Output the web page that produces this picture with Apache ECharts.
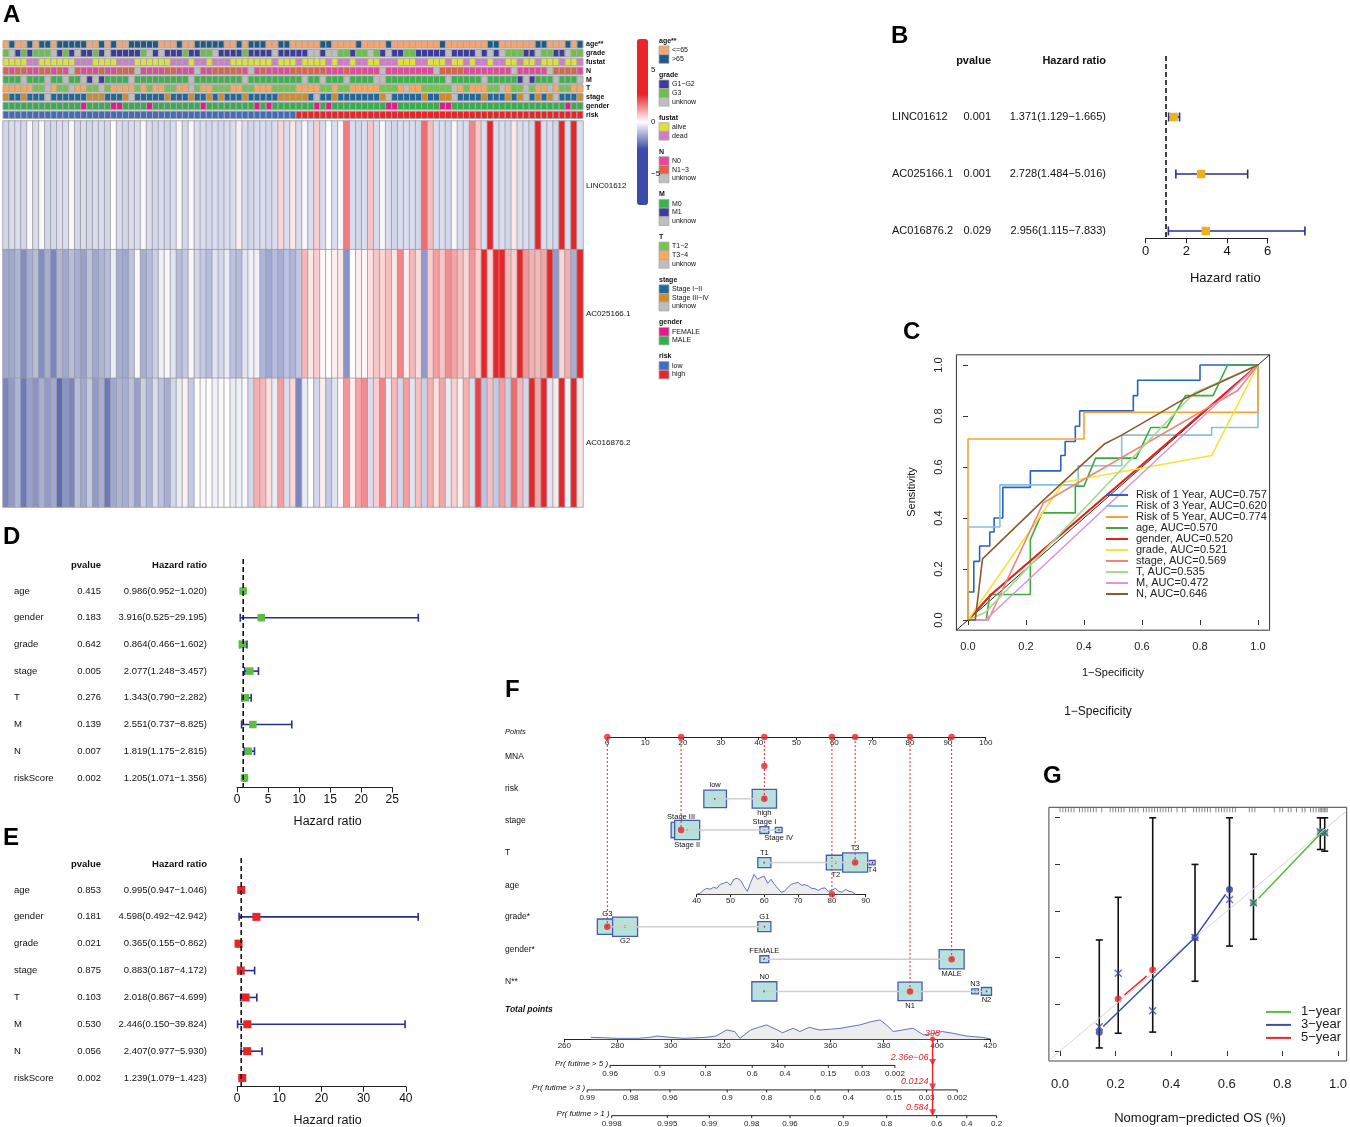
<!DOCTYPE html>
<html>
<head>
<meta charset="utf-8">
<script src="https://cdn.jsdelivr.net/npm/echarts/dist/echarts.min.js"></script>
<style>html,body{margin:0;padding:0;background:#fff}#main{width:1350px;height:1127px}</style>
</head>
<body>
<div id="main"></div>
<script>
// ---------- A: risk heatmap ----------
var sampleCount = 97;
var annNames = ['age**', 'grade', 'fustat', 'N', 'M', 'T', 'stage', 'gender', 'risk'];
var annAge    = 'abaababbab bbbbaababa abbbbbaaab aabbbbbaab abbbaabbaa aaabbaaaab aaaabaaaaa aaabaaaaaa abbaaaaaab baaabab';
var annGrade  = '3u131333u1 31u1131u11 1113u1u111 31133u1111 31111u1111 1uu1uu3313 3u31u11331 1111u1111u 1u1u33311u 3311u33';
var annFustat = 'aaaaddaaaa aadddaaaad ddaaaaaadd daddadddaa aaaaadaaad aaaadaddad daadddaaad daaadaadad daddaadaad aaadaad';
var annN      = '1011001101 0u10001001 11u0000110 00u0011111 0u01000011 1111000100 000u000000 00u1111000 00000u0000 0u11110';
var annM      = '000u000u00 u00u1u1000 0u00000000 0u00000000 u000000000 u00u000u00 00uu000000 0000u00000 u000001u10 00u000u';
var annT      = '3333311u31 1u3311u133 3313133113 3u13311133 1133311113 3331131133 3331113u33 11111u3133 311u311u13 3u31133';
var annStage  = '3113111u11 1111333111 3u11111311 1311313111 3111113333 31u1131111 1113u11111 31133u1111 3111313u13 13u1113';
var annGender = 'mmmmmmmmmm mmmfmmmmff mmmmfmmmmm mmmfmmmmmm mmfmfmmmmm mmfmfmmmmm mmmmffmmmm mmmffmmmmm mmmmmmmmmm mmmmfmm';
var annRisk   = 'llllllllll llllllllll llllllllll llllllllll lllllllllh hhhhhhhhhh hhhhhhhhhh hhhhhhhhhh hhhhhhhhhh hhhhhhh';
var annCodes = [['a','b'], ['1','3','u'], ['a','d'], ['0','1','u'], ['0','1','u'], ['1','3','u'], ['1','3','u'], ['f','m'], ['l','h']];
var annLevels = [['<=65','>65'], ['G1\u2212G2','G3','unknow'], ['alive','dead'], ['N0','N1\u22123','unknow'],
  ['M0','M1','unknow'], ['T1\u22122','T3\u22124','unknow'], ['Stage I\u2212II','Stage III\u2212IV','unknow'], ['FEMALE','MALE'], ['low','high']];

var geneNames = ['LINC01612', 'AC025166.1', 'AC016876.2'];
var exprLINC01612 = [-0.6,-0.5,-0.5,-0.6,-0.1,-0.5,-0.1,-0.6,-0.6,-0.5, -0.5,-0.1,-0.6,-0.5,-0.6,-0.5,-0.5,-0.6,0.0,-0.5,
  -0.6,-0.5,-0.5,-0.1,-0.5,-0.6,-0.5,-0.6,-0.5,-0.1, -0.6,-0.1,-0.5,-0.5,-0.6,-0.5,-0.6,-0.5,-0.5,0.2,
  -0.5,-0.6,-0.5,-0.5,-0.6,-0.5,0.5,-0.5,0.3,-0.5, -0.1,-0.5,0.6,-0.5,0.0,-0.5,-0.1,1.6,-0.5,-0.6,
  -0.5,0.7,-0.5,-0.1,-0.5,-0.6,-0.5,-0.5,-0.5,-0.6, 1.8,0.8,-0.5,-0.5,-0.6,-0.1,-0.5,-0.5,1.5,0.7,
  -0.5,2.8,-0.5,-0.5,-0.6,0.3,-0.5,-0.5,-0.6,2.8, -0.5,-0.5,-0.6,2.8,-0.5,2.8,-0.5];
var exprAC025166 = [-1.3,-1.3,-1.1,-1.7,-1.2,-1.0,-1.7,-1.2,-1.8,-1.1, -1.3,-1.0,-1.2,-1.4,-0.9,-1.3,-1.1,-1.0,-0.3,-1.2,
  -1.3,-0.9,-0.1,-1.2,-1.0,-0.7,-0.2,-0.1,-0.4,-1.0, -0.8,-0.1,-0.6,-0.8,-1.0,-0.4,-0.6,-0.3,-0.9,-1.0,
  -0.4,-0.2,-0.2,-1.1,-1.3,-1.0,-1.2,-0.9,-1.1,-0.8, 0.9,0.3,0.6,0.1,0.0,0.2,0.3,-1.6,0.0,0.2,
  0.1,0.4,0.7,0.5,0.8,0.3,1.5,0.2,0.9,0.4, -1.5,0.6,1.2,0.7,1.4,1.1,0.8,0.5,1.3,0.6,
  2.8,0.5,2.7,2.9,0.9,0.6,2.8,1.3,1.0,0.9, 1.1,2.8,-1.5,0.5,1.0,-1.2,2.9];
var exprAC016876 = [-1.8,-1.5,-1.1,-2.0,-1.4,-1.6,-1.2,-1.5,-1.3,-2.2, -1.6,-1.8,-1.0,-1.3,-0.8,-1.5,-1.2,-2.0,-1.3,-1.1,
  -1.2,-0.9,-1.4,-0.7,-1.1,-0.5,-0.9,-1.2,-0.6,-0.3, 0.2,-0.8,0.0,-0.1,0.0,-0.2,-0.1,0.0,-0.3,-0.2,
  -0.1,-0.6,1.0,0.9,0.4,-0.3,1.2,-0.5,0.5,-1.8, -0.3,0.0,-0.6,0.2,-0.8,-0.4,0.1,1.3,0.2,1.1,
  1.4,-0.5,0.6,1.5,-0.2,0.9,-0.6,1.2,-0.4,0.8, -0.7,1.0,0.4,1.1,-0.3,0.6,0.2,1.0,-0.5,2.3,
  -0.9,0.8,-0.8,1.2,-0.7,1.8,0.9,-0.6,2.8,1.1, 2.8,-0.4,0.3,2.8,-0.2,2.8,0.3];
var colorbarTicks = [5, 0, -5];

// ---------- B / D / E: forest plots ----------
var bNames = ['LINC01612', 'AC025166.1', 'AC016876.2'];
var bP  = [0.001, 0.001, 0.029];
var bHR = [1.371, 2.728, 2.956];
var bLo = [1.129, 1.484, 1.115];
var bHi = [1.665, 5.016, 7.833];

var clinNames = ['age', 'gender', 'grade', 'stage', 'T', 'M', 'N', 'riskScore'];
var dP  = [0.415, 0.183, 0.642, 0.005, 0.276, 0.139, 0.007, 0.002];
var dHR = [0.986, 3.916, 0.864, 2.077, 1.343, 2.551, 1.819, 1.205];
var dLo = [0.952, 0.525, 0.466, 1.248, 0.790, 0.737, 1.175, 1.071];
var dHi = [1.020, 29.195, 1.602, 3.457, 2.282, 8.825, 2.815, 1.356];

var eP  = [0.853, 0.181, 0.021, 0.875, 0.103, 0.530, 0.056, 0.002];
var eHR = [0.995, 4.598, 0.365, 0.883, 2.018, 2.446, 2.407, 1.239];
var eLo = [0.947, 0.492, 0.155, 0.187, 0.867, 0.150, 0.977, 1.079];
var eHi = [1.046, 42.942, 0.862, 4.172, 4.699, 39.824, 5.930, 1.423];

// ---------- C: ROC ----------
var rocNames = ['Risk of 1 Year', 'Risk of 3 Year', 'Risk of 5 Year', 'age', 'gender', 'grade', 'stage', 'T', 'M', 'N'];
var rocAUC = [0.757, 0.620, 0.774, 0.570, 0.520, 0.521, 0.569, 0.535, 0.472, 0.646];
var roc1yr = [[0,0],[0,0.11],[0.02,0.11],[0.02,0.23],[0.04,0.23],[0.04,0.29],[0.075,0.29],[0.075,0.345],[0.09,0.345],[0.09,0.40],
  [0.12,0.40],[0.12,0.52],[0.215,0.52],[0.215,0.585],[0.32,0.585],[0.32,0.645],[0.335,0.645],[0.335,0.70],[0.37,0.70],[0.37,0.76],
  [0.385,0.76],[0.385,0.82],[0.57,0.82],[0.57,0.88],[0.585,0.88],[0.585,0.94],[0.80,0.94],[0.80,1],[1,1]];
var roc3yr = [[0,0],[0,0.365],[0.11,0.365],[0.11,0.53],[0.38,0.53],[0.38,0.605],[0.53,0.605],[0.53,0.725],[0.84,0.725],[0.84,0.755],[1,0.755],[1,1]];
var roc5yr = [[0,0],[0,0.71],[0.40,0.71],[0.40,0.815],[1,0.815],[1,1]];
var rocAge = [[0,0],[0.063,0],[0.075,0.10],[0.215,0.10],[0.215,0.315],[0.255,0.42],[0.37,0.42],[0.37,0.525],[0.40,0.525],[0.44,0.635],
  [0.58,0.635],[0.63,0.755],[0.685,0.755],[0.75,0.88],[0.845,0.88],[0.895,1],[1,1]];
var rocGender = [[0,0],[0.08,0.10],[1,1]];
var rocGrade = [[0,0],[0.33,0.54],[0.84,0.645],[1,1]];
var rocStage = [[0,0],[0.07,0],[0.26,0.46],[0.93,0.90],[1,1]];
var rocT = [[0,0],[0.06,0.03],[0.78,0.89],[1,1]];
var rocM = [[0,0],[0.06,0],[1,1]];
var rocN = [[0,0],[0.025,0],[0.05,0.24],[0.26,0.47],[0.47,0.69],[0.53,0.725],[0.75,0.87],[1,1]];

// ---------- F: nomogram ----------
var nomoLabels = ['Points', 'MNA', 'risk', 'stage', 'T', 'age', 'grade*', 'gender*', 'N**', 'Total points'];
var mnaPts = 41.5;
var riskLevels = ['low', 'high'], riskPts = [28.5, 41.5], riskN = [45, 52];
var stageLevels = ['Stage III', 'Stage II', 'Stage I', 'Stage IV'], stagePts = [19.5, 21.1, 41.5, 45.3], stageN = [35, 55, 7, 4];
var tLevels = ['T1', 'T2', 'T3', 'T4'], tPts = [41.5, 60.4, 65.5, 70.0], tN = [15, 32, 55, 3];
var gradeLevels = ['G3', 'G2', 'G1'], gradePts = [0, 4.7, 41.5], gradeN = [35, 55, 15];
var genderLevels = ['FEMALE', 'MALE'], genderPts = [41.5, 91.0], genderN = [7, 55];
var nLevels = ['N0', 'N1', 'N3', 'N2'], nPts = [41.5, 80.0, 97.2, 100.2], nN = [55, 51, 4, 9];
var ageAxis = [40, 90], ageAxisPts = [23.6, 68.3];
var ageDensity = [[40,0],[41,0.05],[42,0.2],[43,0.3],[44,0.25],[45,0.35],[46,0.3],[47,0.5],[48,0.55],[49,0.62],[50,0.45],
  [51,0.75],[52,0.8],[53,0.7],[54,0.4],[55,0.15],[56,0.6],[57,1.0],[58,0.75],[59,0.85],[60,0.9],[61,0.55],[62,0.75],[63,0.5],
  [64,0.3],[65,0.1],[66,0.15],[67,0.35],[68,0.5],[69,0.55],[70,0.6],[71,0.45],[72,0.48],[73,0.42],[74,0.3],[75,0.28],[76,0.2],
  [77,0.3],[78,0.32],[79,0.15],[80,0.2],[81,0.3],[82,0.15],[83,0.1],[84,0.25],[85,0.15],[86,0.12],[87,0]];
var totDensity = [[270,0.1],[275,0.08],[280,0.05],[288,0.05],[292,0.1],[295,0.17],[300,0.1],[305,0.05],[313,0.1],[317,0.17],
  [321,0.48],[324,0.4],[326,0.05],[330,0.48],[333,0.62],[336,0.74],[340,0.48],[342,0.34],[346,0.57],[348.5,0.4],[352,0.62],
  [356,0.48],[360,0.52],[364,0.57],[367,0.65],[371,0.74],[375,0.9],[378.6,1.0],[381,0.74],[383.6,0.4],[387,0.48],[391,0.57],
  [395,0.22],[398.6,0.31],[402,0.4],[406,0.31],[411,0.17],[417,0.1],[420,0.03]];
var prNames = ['Pr( futime > 5 )', 'Pr( futime > 3 )', 'Pr( futime > 1 )'];
var pr5Labels = ['0.96','0.9','0.8','0.6','0.4','0.15','0.03','0.002'];
var pr5At = [277.2, 295.9, 313.1, 330.6, 342.9, 359.2, 371.9, 384.2];
var pr3Labels = ['0.99','0.98','0.96','0.9','0.8','0.6','0.4','0.15','0.03','0.002'];
var pr3At = [268.6, 284.9, 299.7, 321.2, 336.0, 354.2, 366.7, 383.9, 396.1, 407.6];
var pr1Labels = ['0.998','0.995','0.99','0.98','0.96','0.9','0.8','0.6','0.4','0.2'];
var pr1At = [277.8, 298.7, 314.5, 330.4, 344.8, 364.8, 381.1, 399.9, 411.2, 422.4];
var prPred = ['2.36e\u221206', '0.0124', '0.584'];
var selRisk = 'high', selStage = 'Stage III', selT = 'T3', selAge = 80, selGrade = 'G3', selGender = 'MALE', selN = 'N1';

// ---------- G: calibration ----------
var calX  = [0.141, 0.209, 0.333, 0.485, 0.609, 0.695, 0.935, 0.951];
var calLo = [0.013, 0.076, 0.081, 0.299, 0.450, 0.479, 0.864, 0.857];
var calHi = [0.476, 0.659, 1.000, 0.800, 1.000, 0.844, 1.000, 1.000];
var calCorrected = [[0.141,0.104],[0.209,0.333],[0.333,0.173],[0.485,0.487],[0.609,0.650],[0.695,0.636],[0.935,0.940],[0.951,0.936]];
var cal1Dots = [[0.695,0.636],[0.935,0.940],[0.951,0.936]];
var cal3Dots = [[0.141,0.080],[0.485,0.487],[0.609,0.693]];
var cal5Dots = [[0.209,0.223],[0.333,0.347]];
var cal1Line = [[0.713,0.654],[0.934,0.930]];
var cal3Line = [[0.155,0.105],[0.485,0.487],[0.595,0.672]];
var cal5Line = [[0.231,0.240],[0.311,0.321]];
var calRug = [0.0,0.01,0.02,0.03,0.04,0.05,0.07,0.08,0.09,0.1,0.11,0.12,0.13,0.15,0.18,0.19,0.2,0.21,0.22,0.23,0.25,0.26,0.27,
  0.28,0.3,0.31,0.32,0.33,0.34,0.35,0.36,0.37,0.38,0.39,0.4,0.42,0.44,0.45,0.48,0.49,0.5,0.51,0.52,0.53,0.54,0.56,0.57,0.58,
  0.59,0.6,0.61,0.62,0.63,0.68,0.69,0.7,0.77,0.79,0.8,0.82,0.83,0.85,0.87,0.88,0.9,0.91,0.92,0.93,0.935,0.94,0.945,0.95,0.955,0.96];

// ================= drawing =================
var FONT = 'Liberation Sans';
var chart = echarts.init(document.getElementById('main'));
var grids = [], xAxes = [], yAxes = [], series = [];

function addGrid(g, xa, ya) {
  var gi = grids.length;
  grids.push(g);
  xa.gridIndex = gi; ya.gridIndex = gi;
  xAxes.push(xa); yAxes.push(ya);
  return gi;
}
function hid(min, max, extra) {
  var a = {type: 'value', min: min, max: max, show: false};
  for (var k in (extra || {})) a[k] = extra[k];
  return a;
}
function onGrid(gi, s) { s.xAxisIndex = gi; s.yAxisIndex = gi; s.silent = true; series.push(s); return s; }
function T(x, y, s, o) {
  o = o || {};
  var al = o.align || 'left';
  var e = {type: 'text', x: x, y: y, silent: true, z: 100, style: {text: s, fontSize: o.size || 10, fontFamily: FONT,
    fontWeight: o.weight || 'normal', fontStyle: o.style || 'normal', fill: o.color || '#111',
    align: al, verticalAlign: 'middle', textAlign: al, textVerticalAlign: 'middle'}};
  if (o.rot) e.rotation = o.rot;
  return e;
}
function codes(s) { return s.replace(/ /g, '').split(''); }

// ----- A -----
var annColors = [['#F6A471','#1D5A88'], ['#3B3C9C','#6CC04A','#BEBEBE'], ['#E0E03A','#D37BCB'], ['#E6479A','#E06048','#BEBEBE'],
  ['#3CB24B','#3B3C9C','#BEBEBE'], ['#74C450','#F9A95C','#BEBEBE'], ['#23689C','#CF8C2C','#BEBEBE'], ['#E5198A','#33B04A'], ['#3D6CC0','#E8262A']];
var annStrings = [annAge, annGrade, annFustat, annN, annM, annT, annStage, annGender, annRisk];
var colCats = [];
for (var i = 0; i < sampleCount; i++) colCats.push(String(i));
var gAnn = addGrid({left: 3, top: 40, width: 580, height: 79.2},
  {type: 'category', data: colCats, show: false}, {type: 'category', data: annNames, inverse: true, show: false});
var annData = [];
annStrings.forEach(function (s, r) {
  codes(s).forEach(function (ch, c) { annData.push([c, r, annCodes[r].indexOf(ch)]); });
});
onGrid(gAnn, {type: 'custom', data: annData, renderItem: function (p, api) {
  var c = api.coord([api.value(0), api.value(1)]), sz = api.size([1, 1]);
  return {type: 'rect', shape: {x: c[0] - sz[0] / 2, y: c[1] - sz[1] / 2 + 0.7, width: sz[0], height: sz[1] - 1.4},
    style: {fill: annColors[api.value(1)][api.value(2)], stroke: '#A8A8A8', lineWidth: 1}};
}});

var gHeat = addGrid({left: 3, top: 121, width: 580, height: 386},
  {type: 'category', data: colCats, show: false}, {type: 'category', data: geneNames, inverse: true, show: false});
var heatData = [];
[exprLINC01612, exprAC025166, exprAC016876].forEach(function (arr, g) {
  arr.forEach(function (v, c) { heatData.push([c, g, v]); });
});
var heatIdx = series.length;
onGrid(gHeat, {type: 'heatmap', data: heatData, itemStyle: {borderColor: '#9C9C9C', borderWidth: 0.8}, emphasis: {disabled: true}});

// ----- forest plots -----
function forest(cfg) {
  var maxHi = Math.max.apply(null, cfg.hi);
  var yMin = (cfg.dashTop - cfg.rowTop) / cfg.step, yMax = (cfg.axisY - cfg.rowTop) / cfg.step;
  var gd = addGrid({left: cfg.x0, top: cfg.dashTop, width: maxHi * cfg.ppu, height: cfg.axisY - cfg.dashTop},
    hid(0, maxHi), hid(yMin, yMax, {inverse: true}));
  addGrid({left: cfg.x0, top: cfg.dashTop, width: cfg.axisMax * cfg.ppu, height: cfg.axisY - cfg.dashTop},
    {type: 'value', min: 0, max: cfg.axisMax, interval: cfg.interval, splitLine: {show: false},
      axisLine: {lineStyle: {color: '#222', width: 1}}, axisTick: {length: 5, lineStyle: {color: '#222'}},
      axisLabel: {fontSize: cfg.tick, color: '#111', margin: cfg.margin}}, hid(0, 1));
  onGrid(gd, {type: 'line', data: [[1, yMin], [1, yMax]], symbol: 'none', lineStyle: {color: '#111', width: 1.6, type: [5, 3]}});
  var navy = '#2A2E8E';
  onGrid(gd, {type: 'custom', data: cfg.hr.map(function (h, i) { return [h, i, cfg.lo[i], cfg.hi[i]]; }),
    renderItem: function (p, api) {
      var y = api.coord([0, api.value(1)])[1];
      var xc = api.coord([api.value(0), 0])[0], xl = api.coord([api.value(2), 0])[0], xh = api.coord([api.value(3), 0])[0];
      var s = cfg.sq, cp = cfg.cap, st = {stroke: navy, lineWidth: 1.6};
      return {type: 'group', children: [
        {type: 'line', shape: {x1: xl, y1: y, x2: xh, y2: y}, style: st},
        {type: 'line', shape: {x1: xl, y1: y - cp, x2: xl, y2: y + cp}, style: st},
        {type: 'line', shape: {x1: xh, y1: y - cp, x2: xh, y2: y + cp}, style: st},
        {type: 'rect', shape: {x: xc - s / 2, y: y - s / 2, width: s, height: s}, style: {fill: cfg.color}}
      ]};
    }});
  cfg.grid = gd; cfg.maxHi = maxHi;
  return cfg;
}
var fB = forest({names: bNames, p: bP, hr: bHR, lo: bLo, hi: bHi, color: '#E9B31F', x0: 1145.7, ppu: 20.33, axisMax: 6, interval: 2,
  rowTop: 117, step: 57, axisY: 238.3, dashTop: 56, tick: 13, margin: 7, sq: 8.5, cap: 4.5,
  nameX: 892, pX: 991, hrX: 1106, headY: 61, txt: 11, title: 13, titleOff: 40});
var fD = forest({names: clinNames, p: dP, hr: dHR, lo: dLo, hi: dHi, color: '#5DBB46', x0: 237, ppu: 6.21, axisMax: 25, interval: 5,
  rowTop: 591, step: 26.7, axisY: 787.5, dashTop: 559, tick: 12, margin: 6, sq: 7.5, cap: 4,
  nameX: 14, pX: 101, hrX: 207, headY: 565, txt: 9.5, title: 12.5, titleOff: 34});
var fE = forest({names: clinNames, p: eP, hr: eHR, lo: eLo, hi: eHi, color: '#E8262A', x0: 237, ppu: 4.22, axisMax: 40, interval: 10,
  rowTop: 890, step: 26.86, axisY: 1086.7, dashTop: 858, tick: 12, margin: 6, sq: 8, cap: 4,
  nameX: 14, pX: 101, hrX: 207, headY: 864, txt: 9.5, title: 12.5, titleOff: 34});

// ----- C: ROC -----
var rocCurves = [roc1yr, roc3yr, roc5yr, rocAge, rocGender, rocGrade, rocStage, rocT, rocM, rocN];
var rocColors = ['#2A62C4', '#86C0E0', '#F6A234', '#3EAA3E', '#E3211C', '#F2E535', '#F08679', '#A5DB8C', '#DA97D6', '#8A5A2E'];
var gRoc = addGrid({left: 956.4, top: 354.8, width: 313.2, height: 275.4, show: true, borderColor: '#333', borderWidth: 1},
  hid(-0.04, 1.04), hid(-0.04, 1.04));
addGrid({left: 968, top: 365, width: 290, height: 255},
  {type: 'value', min: 0, max: 1, interval: 0.2, offset: 10.2, splitLine: {show: false}, axisLine: {show: false},
    axisTick: {length: 5, lineStyle: {color: '#333'}}, axisLabel: {fontSize: 11, color: '#222', margin: 11, formatter: function (v) { return v.toFixed(1); }}},
  {type: 'value', min: 0, max: 1, interval: 0.2, offset: 11.6, splitLine: {show: false}, axisLine: {show: false},
    axisTick: {length: 5, lineStyle: {color: '#333'}}, axisLabel: {fontSize: 11, color: '#222', margin: 12, rotate: 90, formatter: function (v) { return v.toFixed(1); }}});
onGrid(gRoc, {type: 'line', data: [[-0.04, -0.04], [1.04, 1.04]], symbol: 'none', lineStyle: {color: '#111', width: 0.9}});
var rocLegend = [];
rocCurves.forEach(function (cv, i) {
  var nm = rocNames[i] + ', AUC=' + rocAUC[i].toFixed(3);
  rocLegend.push(nm);
  onGrid(gRoc, {type: 'line', name: nm, data: cv, symbol: 'none', lineStyle: {color: rocColors[i], width: i === 4 ? 2.2 : 1.6}, itemStyle: {color: rocColors[i]}});
});

// ----- F: nomogram -----
var PTS_LEFT = 607.3, PTS_PX = 3.784, TOT_LEFT = 564.3, TOT_PX = 2.662, TOT_MIN = 260;
var nomoRowAt = [0, 0.90, 1.92, 2.89, 3.90, 4.88, 5.89, 6.90, 7.90, 9.38];
var nomoLabelAt = [-0.16, 0.62, 1.61, 2.61, 3.60, 4.63, 5.59, 6.61, 7.61, 8.48];
var prRowAt = [10.20, 10.96, 11.76];
var ROW_MIN = -0.528, ROW_MAX = 12.112;
var gNomo = addGrid({left: 500, top: 720, width: 510, height: 407},
  hid((500 - PTS_LEFT) / PTS_PX, (1010 - PTS_LEFT) / PTS_PX), hid(ROW_MIN, ROW_MAX, {inverse: true}));
var smallAxis = function (min, max, iv) {
  return {type: 'value', min: min, max: max, interval: iv, splitLine: {show: false},
    axisLine: {lineStyle: {color: '#222', width: 1}}, axisTick: {length: 3, lineStyle: {color: '#222'}},
    axisLabel: {fontSize: 8, color: '#222', margin: 2}};
};
addGrid({left: PTS_LEFT, top: 736, width: 100 * PTS_PX, height: 1}, smallAxis(0, 100, 10), hid(0, 1));
var ageLeft = PTS_LEFT + ageAxisPts[0] * PTS_PX, ageW = (ageAxisPts[1] - ageAxisPts[0]) * PTS_PX;
var gAge = addGrid({left: ageLeft, top: 874.3, width: ageW, height: 20}, smallAxis(ageAxis[0], ageAxis[1], 10), hid(0, 1));
var gTot = addGrid({left: TOT_LEFT, top: 1017, width: 160 * TOT_PX, height: 22.3}, smallAxis(260, 420, 20), hid(0, 1.15));
var gPr = addGrid({left: TOT_LEFT, top: 720, width: 175 * TOT_PX, height: 407}, hid(260, 435), hid(ROW_MIN, ROW_MAX, {inverse: true}));

function agePts(a) { return ageAxisPts[0] + (a - ageAxis[0]) * (ageAxisPts[1] - ageAxisPts[0]) / (ageAxis[1] - ageAxis[0]); }
var nomoVars = [
  {levels: riskLevels, pts: riskPts, n: riskN, row: nomoRowAt[2], lab: ['t', 'b'], sel: selRisk},
  {levels: stageLevels, pts: stagePts, n: stageN, row: nomoRowAt[3], lab: ['t', 'b', 't', 'b'], sel: selStage},
  {levels: tLevels, pts: tPts, n: tN, row: nomoRowAt[4], lab: ['t', 'b', 't', 'b'], sel: selT},
  {levels: gradeLevels, pts: gradePts, n: gradeN, row: nomoRowAt[6], lab: ['t', 'b', 't'], sel: selGrade},
  {levels: genderLevels, pts: genderPts, n: genderN, row: nomoRowAt[7], lab: ['t', 'b'], sel: selGender},
  {levels: nLevels, pts: nPts, n: nN, row: nomoRowAt[8], lab: ['t', 'b', 't', 'b'], sel: selN}
];
var boxItems = [], selDots = [[mnaPts, nomoRowAt[1]], [agePts(selAge), nomoRowAt[5]]], dropLines = [[agePts(selAge), nomoRowAt[5]]];
var totalPts = mnaPts + agePts(selAge);
nomoVars.forEach(function (v) {
  onGrid(gNomo, {type: 'line', data: [[Math.min.apply(null, v.pts), v.row], [Math.max.apply(null, v.pts), v.row]],
    symbol: 'none', lineStyle: {color: '#CFCFCF', width: 1.5}});
  v.levels.forEach(function (lv, j) {
    boxItems.push({pts: v.pts[j], row: v.row, n: v.n[j], name: lv, lab: v.lab[j]});
    if (lv === v.sel) { selDots.push([v.pts[j], v.row]); dropLines.push([v.pts[j], v.row]); totalPts += v.pts[j]; }
  });
});
dropLines.forEach(function (d) { selDots.push([d[0], 0]); });
onGrid(gNomo, {type: 'custom', data: boxItems.map(function (b) { return [b.pts, b.row]; }), renderItem: function (p, api) {
  var it = boxItems[p.dataIndex], c = api.coord([it.pts, it.row]);
  var w = 25 * Math.sqrt(it.n / 55), h = w * 0.77;
  var ly = it.lab === 't' ? c[1] - h / 2 - 5 : c[1] + h / 2 + 5;
  return {type: 'group', children: [
    {type: 'rect', shape: {x: c[0] - w / 2, y: c[1] - h / 2, width: w, height: h}, style: {fill: '#B6E2DB', stroke: '#4A5AB4', lineWidth: 1.3}},
    {type: 'rect', shape: {x: c[0] - 0.8, y: c[1] - 0.8, width: 1.6, height: 1.6}, style: {fill: '#111'}},
    {type: 'text', x: c[0], y: ly, style: {text: it.name, fontSize: 7.5, fontFamily: FONT, fill: '#111',
      align: 'center', verticalAlign: 'middle', textAlign: 'center', textVerticalAlign: 'middle'}}
  ]};
}});
onGrid(gNomo, {type: 'custom', data: dropLines, renderItem: function (p, api) {
  var a = api.coord([api.value(0), 0]), b = api.coord([api.value(0), api.value(1)]);
  return {type: 'line', shape: {x1: a[0], y1: a[1], x2: b[0], y2: b[1]}, style: {stroke: '#E8262A', lineWidth: 1, lineDash: [2, 2]}};
}});
onGrid(gAge, {type: 'line', data: ageDensity, symbol: 'none', lineStyle: {color: '#4050A8', width: 0.8}, areaStyle: {color: '#EDEDED', opacity: 1}});
onGrid(gTot, {type: 'line', data: totDensity, symbol: 'none', lineStyle: {color: '#4050A8', width: 0.8}, areaStyle: {color: '#EDEDED', opacity: 1}});
onGrid(gNomo, {type: 'scatter', data: selDots, symbolSize: 6.5, itemStyle: {color: '#E8262A'}, z: 5});

var prTicks = [[pr5At, pr5Labels], [pr3At, pr3Labels], [pr1At, pr1Labels]];
prTicks.forEach(function (pt, k) {
  var row = prRowAt[k];
  onGrid(gPr, {type: 'line', data: [[pt[0][0], row], [pt[0][pt[0].length - 1], row]], symbol: 'none', lineStyle: {color: '#222', width: 1}});
  onGrid(gPr, {type: 'custom', data: pt[0].map(function (a) { return [a, row]; }), renderItem: function (p, api) {
    var c = api.coord([api.value(0), api.value(1)]);
    return {type: 'group', children: [
      {type: 'line', shape: {x1: c[0], y1: c[1], x2: c[0], y2: c[1] + 2.5}, style: {stroke: '#222', lineWidth: 1}},
      {type: 'text', x: c[0], y: c[1] + 8, style: {text: pt[1][p.dataIndex], fontSize: 8, fontFamily: FONT, fill: '#222',
        align: 'center', verticalAlign: 'middle', textAlign: 'center', textVerticalAlign: 'middle'}}
    ]};
  }});
});
var totalRow = nomoRowAt[9];
onGrid(gPr, {type: 'line', data: [[totalPts, totalRow], [totalPts, prRowAt[2]]], symbol: 'none', lineStyle: {color: '#E8262A', width: 1.5}, z: 4});
onGrid(gPr, {type: 'scatter', data: prRowAt.map(function (r) { return [totalPts, r]; }), symbol: 'triangle', symbolRotate: 180,
  symbolSize: 7, symbolOffset: [0, -3], itemStyle: {color: '#E8262A'}, z: 5});
onGrid(gPr, {type: 'scatter', data: [[totalPts, totalRow]], symbolSize: 5, itemStyle: {color: '#E8262A'}, z: 5});

// ----- G: calibration -----
var gCal = addGrid({left: 1048.9, top: 807.3, width: 297.8, height: 253.7, show: true, borderColor: '#444', borderWidth: 1},
  hid(-0.04, 1.03), hid(-0.043, 1.045));
addGrid({left: 1060, top: 817.7, width: 278.3, height: 233.3},
  {type: 'value', min: 0, max: 1, interval: 0.2, offset: 10, splitLine: {show: false}, axisLine: {show: false},
    axisTick: {length: 5, lineStyle: {color: '#333'}}, axisLabel: {fontSize: 13, color: '#222', margin: 17, formatter: function (v) { return v.toFixed(1); }}},
  {type: 'value', min: 0, max: 1, interval: 0.2, offset: 11.1, splitLine: {show: false}, axisLine: {show: false},
    axisTick: {length: 5, lineStyle: {color: '#333'}}, axisLabel: {show: false}});
var cGreen = '#5CB946', cBlue = '#3B4CAE', cRed = '#E8262A';
onGrid(gCal, {type: 'line', data: [[-0.04, -0.04], [1.03, 1.03]], symbol: 'none', lineStyle: {color: '#D5D5D5', width: 1}});
onGrid(gCal, {type: 'custom', data: calRug.map(function (x) { return [x, 1.045]; }), renderItem: function (p, api) {
  var c = api.coord([api.value(0), api.value(1)]);
  return {type: 'line', shape: {x1: c[0], y1: c[1], x2: c[0], y2: c[1] + 5}, style: {stroke: '#555', lineWidth: 0.7}};
}});
onGrid(gCal, {type: 'custom', data: calX.map(function (x, i) { return [x, calLo[i], calHi[i]]; }), renderItem: function (p, api) {
  var lo = api.coord([api.value(0), api.value(1)]), hi = api.coord([api.value(0), api.value(2)]), st = {stroke: '#111', lineWidth: 1.6};
  return {type: 'group', children: [
    {type: 'line', shape: {x1: lo[0], y1: lo[1], x2: hi[0], y2: hi[1]}, style: st},
    {type: 'line', shape: {x1: lo[0] - 3.5, y1: lo[1], x2: lo[0] + 3.5, y2: lo[1]}, style: st},
    {type: 'line', shape: {x1: hi[0] - 3.5, y1: hi[1], x2: hi[0] + 3.5, y2: hi[1]}, style: st}
  ]};
}});
var calNames = ['1\u2212year', '3\u2212year', '5\u2212year'];
[[cal1Line, cGreen], [cal3Line, cBlue], [cal5Line, cRed]].forEach(function (l, i) {
  onGrid(gCal, {type: 'line', name: calNames[i], data: l[0], symbol: 'none', lineStyle: {color: l[1], width: 1.5}, itemStyle: {color: l[1]}});
});
[[cal1Dots, cGreen], [cal3Dots, '#2E3B9E'], [cal5Dots, cRed]].forEach(function (d) {
  onGrid(gCal, {type: 'scatter', data: d[0], symbolSize: 7, itemStyle: {color: d[1]}});
});
onGrid(gCal, {type: 'scatter', data: calCorrected, symbol: 'path://M0,0L10,10M10,0L0,10', symbolSize: 7,
  itemStyle: {color: 'rgba(0,0,0,0)', borderColor: cBlue, borderWidth: 1.4}});

chart.setOption({
  animation: false,
  backgroundColor: '#ffffff',
  textStyle: {fontFamily: FONT},
  grid: grids, xAxis: xAxes, yAxis: yAxes, series: series,
  visualMap: [{type: 'continuous', seriesIndex: heatIdx, min: -8, max: 8, left: 637, top: 39, itemWidth: 11, itemHeight: 166,
    padding: 0, calculable: false, hoverLink: false,
    inRange: {color: ['#3A4BA8', '#3A4BA8', '#3A4BA8', '#FFFFFF', '#E8262A', '#E8262A', '#E8262A']}}],
  legend: [
    {data: rocLegend, orient: 'vertical', left: 1105, top: 489.5, itemWidth: 22, itemHeight: 13.1, itemGap: 0, padding: 0,
      selectedMode: false, itemStyle: {opacity: 0}, textStyle: {fontSize: 11, color: '#222', padding: [0, 0, 0, 3]}},
    {data: calNames, orient: 'vertical', left: 1265, top: 1005.4, itemWidth: 25, itemHeight: 15.85, itemGap: 0, padding: 0,
      selectedMode: false, itemStyle: {opacity: 0}, textStyle: {fontSize: 13, color: '#222', padding: [0, 0, 0, 5]}}
  ]
});

// ----- text layer -----
function pix(gi, v) { return chart.convertToPixel({gridIndex: gi}, v); }
var g = [];
[['A', 3, 15], ['B', 891, 36], ['C', 903, 332], ['D', 3, 537], ['E', 3, 838], ['F', 505, 690], ['G', 1043, 776]].forEach(function (l) {
  g.push(T(l[1], l[2], l[0], {size: 24, weight: 'bold', color: '#000'}));
});
annNames.forEach(function (nm, r) { g.push(T(586, pix(gAnn, [0, r])[1], nm, {size: 7, weight: 'bold'})); });
geneNames.forEach(function (nm, r) { g.push(T(586, pix(gHeat, [0, r])[1], nm, {size: 8})); });
colorbarTicks.forEach(function (v) {
  g.push(T(651, 39 + (8 - v) / 16 * 166, v < 0 ? '\u2212' + Math.abs(v) : String(v), {size: 8}));
});
var ly = 41;
annNames.forEach(function (nm, r) {
  g.push(T(659, ly, nm, {size: 7, weight: 'bold'}));
  annLevels[r].forEach(function (lv, j) {
    var by = ly + 5 + j * 8.7;
    g.push({type: 'rect', silent: true, shape: {x: 659, y: by, width: 10, height: 8.7}, style: {fill: annColors[r][j], stroke: '#AAAAAA', lineWidth: 0.8}});
    g.push(T(672, by + 4.35, lv, {size: 7}));
  });
  ly += 5 + annLevels[r].length * 8.7 + 11.6;
});
[fB, fD, fE].forEach(function (f) {
  g.push(T(f.pX, f.headY, 'pvalue', {size: f.txt, weight: 'bold', align: 'right'}));
  g.push(T(f.hrX, f.headY, 'Hazard ratio', {size: f.txt, weight: 'bold', align: 'right'}));
  f.names.forEach(function (nm, i) {
    var y = pix(f.grid, [0, i])[1];
    g.push(T(f.nameX, y, nm, {size: f.txt}));
    g.push(T(f.pX, y, f.p[i].toFixed(3), {size: f.txt, align: 'right'}));
    g.push(T(f.hrX, y, f.hr[i].toFixed(3) + '(' + f.lo[i].toFixed(3) + '\u2212' + f.hi[i].toFixed(3) + ')', {size: f.txt, align: 'right'}));
  });
  g.push(T(f.x0 + f.maxHi * f.ppu / 2, f.axisY + f.titleOff, 'Hazard ratio', {size: f.title, align: 'center'}));
});
g.push(T(912, 492, 'Sensitivity', {size: 11, align: 'center', rot: Math.PI / 2}));
g.push(T(1113, 673, '1\u2212Specificity', {size: 11, align: 'center'}));
g.push(T(1098, 712, '1\u2212Specificity', {size: 12, align: 'center'}));
nomoLabels.forEach(function (nm, i) {
  var y = pix(gNomo, [0, nomoLabelAt[i]])[1];
  var o = {size: 8.5};
  if (i === 0) o = {size: 7.5, style: 'italic'};
  if (i === 9) o = {size: 8.5, style: 'italic', weight: 'bold'};
  g.push(T(505, y, nm, o));
});
prTicks.forEach(function (pt, k) {
  var p0 = pix(gPr, [pt[0][0], prRowAt[k]]);
  g.push(T(p0[0] - 2, p0[1] - 2, prNames[k], {size: 8, style: 'italic', align: 'right'}));
  var pr = pix(gPr, [totalPts, prRowAt[k]]);
  g.push(T(pr[0] - 4, pr[1] - 8, prPred[k], {size: 9, style: 'italic', color: '#E8262A', align: 'right'}));
});
var tp = pix(gPr, [totalPts, totalRow]);
g.push(T(tp[0], tp[1] - 6, String(Math.round(totalPts)), {size: 9, style: 'italic', color: '#E8262A', align: 'center'}));
g.push(T(1200, 1118, 'Nomogram\u2212predicted OS (%)', {size: 13, align: 'center'}));
chart.setOption({graphic: {elements: g}});
</script>
</body>
</html>
